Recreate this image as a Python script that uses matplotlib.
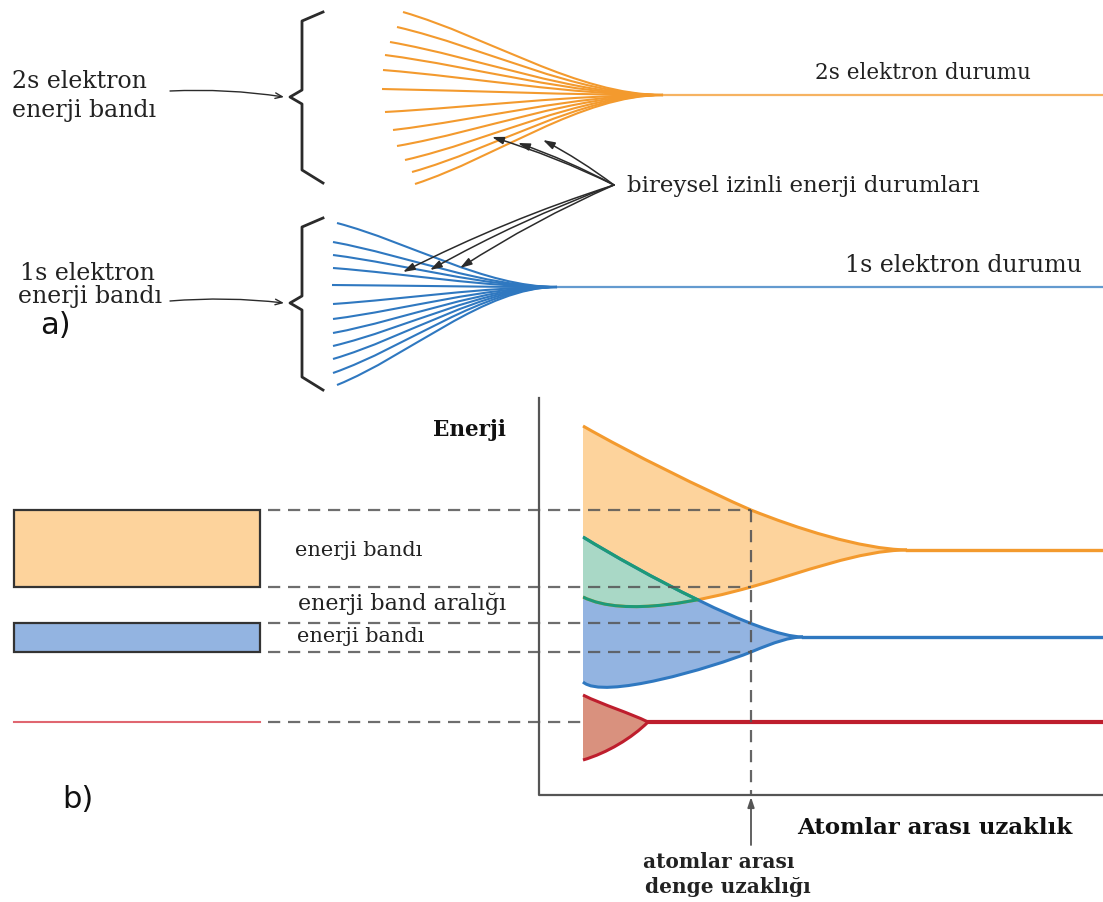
import numpy as np
import matplotlib
matplotlib.use("Agg")
import matplotlib.pyplot as plt
from matplotlib.path import Path
from matplotlib.patches import PathPatch, Rectangle
from matplotlib.bezier import BezierSegment

## Colours
c_orange = "#F39A2E"
c_orange_fill = "#FDD39C"
c_blue = "#2F78C0"
c_blue_fill = "#93B4E1"
c_green = "#1D9A78"
c_green_fill = "#A9D8C6"
c_red = "#BE1E2D"
c_red_fill = "#D9917E"
c_ink = "#2B2B2B"
c_dash = "#555555"

## a) individual levels fanning out from the atomic states
fan_2s_x0 = [403, 397, 390, 385, 383, 382, 385, 393, 397, 405, 412, 415]
fan_2s_y0 = [12, 27, 42, 55, 70, 89, 112, 130, 146, 160, 172, 184]
fan_2s_end = (663, 95)

fan_1s_x0 = [337, 333, 333, 333, 332, 333, 333, 333, 333, 333, 333, 337]
fan_1s_y0 = [223, 242, 255, 268, 285, 304, 319, 333, 346, 359, 373, 385]
fan_1s_end = (557, 287)

# curly brackets: (x of spine, x of tip, x of arms, top, middle, bottom)
brackets = [(302, 290, 323, 12, 97, 183),
            (302, 290, 323, 218, 303, 390)]

# arrows from "bireysel izinli enerji durumlari"
level_arrow_src = (614, 185)
level_arrow_tgt = [(492, 137), (518, 143), (543, 140),
                   (403, 272), (430, 270), (460, 268)]

## b) band edges vs. interatomic spacing (cubic segments)
r_eq = 751
band2_upper = [[(583, 426), (630, 453), (705, 490), (751, 510)],
               [(751, 510), (796, 528), (860, 549), (907, 550)]]
band2_lower = [[(583, 597), (625, 618), (705, 600), (751, 587)],
               [(751, 587), (801, 573), (860, 550), (907, 550)]]
band1_upper = [[(583, 537), (640, 572), (760, 637), (803, 637)]]
band1_lower = [[(583, 682), (603, 700), (711, 668), (751, 652)],
               [(751, 652), (775, 642), (790, 637), (803, 637)]]
core_upper = [[(583, 695), (603, 705), (630, 713), (648, 722)]]
core_lower = [[(583, 760), (607, 753), (632, 738), (648, 722)]]

x_right = 1103
axis_origin = (539, 795)
axis_top = 398


def edge_path(segs):
    verts = [segs[0][0]]
    codes = [Path.MOVETO]
    for s in segs:
        verts += list(s[1:])
        codes += [Path.CURVE4] * 3
    return Path(verts, codes)


def region_path(upper, lower):
    verts = [upper[0][0]]
    codes = [Path.MOVETO]
    for s in upper:
        verts += list(s[1:])
        codes += [Path.CURVE4] * 3
    for s in reversed(lower):
        r = list(reversed(s))
        verts.append(r[0])
        codes.append(Path.LINETO)
        verts += r[1:]
        codes += [Path.CURVE4] * 3
    verts.append(verts[0])
    codes.append(Path.CLOSEPOLY)
    return Path(verts, codes)


def edge_at(segs, x):
    pts = np.vstack([BezierSegment(np.array(s, float))(np.linspace(0, 1, 200))
                     for s in segs])
    order = np.argsort(pts[:, 0])
    return np.interp(x, pts[order, 0], pts[order, 1])


fig = plt.figure(figsize=(11.03, 9.02), dpi=100)
ax = fig.add_axes([0, 0, 1, 1])
ax.set_xlim(0, 1103)
ax.set_ylim(902, 0)
ax.axis("off")

serif = "DejaVu Serif"

# ---- part a ----
for xs, ys, end, col in [(fan_2s_x0, fan_2s_y0, fan_2s_end, c_orange),
                         (fan_1s_x0, fan_1s_y0, fan_1s_end, c_blue)]:
    xe, ye = end
    for x0, y0 in zip(xs, ys):
        dx = xe - x0
        seg = [(x0, y0), (x0 + 0.33 * dx, y0 + 0.3 * (ye - y0)),
               (x0 + 0.67 * dx, ye), (xe, ye)]
        ax.add_patch(PathPatch(edge_path([seg]), fill=False, ec=col, lw=1.5))
    ax.plot([xe, x_right], [ye, ye], color=col, lw=1.6, alpha=0.75)

for xs, xt, xa, top, mid, bot in brackets:
    bx = [xa, xs, xs, xt, xs, xs, xa]
    by = [top, top + 9, mid - 7, mid, mid + 7, bot - 13, bot]
    ax.plot(bx, by, color=c_ink, lw=2, solid_joinstyle="round")

for tgt in level_arrow_tgt:
    ax.annotate("", xy=tgt, xytext=level_arrow_src,
                arrowprops=dict(arrowstyle="-|>,head_length=0.7,head_width=0.22",
                                color=c_ink, lw=1.1, shrinkA=0, shrinkB=0,
                                connectionstyle="arc3,rad=0.04"))

for y0, y1 in [(91, 97), (301, 303)]:
    ax.annotate("", xy=(284, y1), xytext=(170, y0),
                arrowprops=dict(arrowstyle="->,head_length=0.5,head_width=0.2",
                                color=c_ink, lw=1, shrinkA=0, shrinkB=0,
                                connectionstyle="arc3,rad=-0.05"))

ax.text(12, 82, "2s elektron", family=serif, fontsize=17, va="center", color="#222")
ax.text(12, 110, "enerji bandı", family=serif, fontsize=17, va="center", color="#222")
ax.text(20, 273, "1s elektron", family=serif, fontsize=17, va="center", color="#222")
ax.text(18, 297, "enerji bandı", family=serif, fontsize=17, va="center", color="#222")
ax.text(815, 73, "2s elektron durumu", family=serif, fontsize=15.5, va="center", color="#222")
ax.text(845, 265, "1s elektron durumu", family=serif, fontsize=17, va="center", color="#222")
ax.text(627, 186, "bireysel izinli enerji durumları", family=serif, fontsize=16.5,
        va="center", color="#222")
ax.text(40, 325, "a)", family="DejaVu Sans", fontsize=22, va="center", color="#111")

# ---- part b ----
p_orange = PathPatch(region_path(band2_upper, band2_lower), fc=c_orange_fill, ec="none")
p_blue = PathPatch(region_path(band1_upper, band1_lower), fc=c_blue_fill, ec="none")
ax.add_patch(p_orange)
ax.add_patch(p_blue)
p_overlap = PathPatch(region_path(band2_upper, band2_lower), fc=c_green_fill, ec="none")
ax.add_patch(p_overlap)
p_overlap.set_clip_path(p_blue)
ax.add_patch(PathPatch(region_path(core_upper, core_lower), fc=c_red_fill, ec="none"))

for segs, col in [(band2_upper, c_orange), (band2_lower, c_orange),
                  (band1_upper, c_blue), (band1_lower, c_blue),
                  (core_upper, c_red), (core_lower, c_red)]:
    ax.add_patch(PathPatch(edge_path(segs), fill=False, ec=col, lw=2.2))

g1 = PathPatch(edge_path(band2_lower), fill=False, ec=c_green, lw=2.2)
ax.add_patch(g1)
g1.set_clip_path(p_blue)
g2 = PathPatch(edge_path(band1_upper), fill=False, ec=c_green, lw=2.2)
ax.add_patch(g2)
g2.set_clip_path(p_orange)

# flat atomic levels at large spacing
for segs, col, lw in [(band2_upper, c_orange, 2.4), (band1_upper, c_blue, 2.4),
                      (core_upper, c_red, 3)]:
    xe, ye = segs[-1][-1]
    ax.plot([xe, x_right], [ye, ye], color=col, lw=lw)

# band edges at equilibrium spacing
e2_top = edge_at(band2_upper, r_eq)
e2_bot = edge_at(band2_lower, r_eq)
e1_top = edge_at(band1_upper, r_eq)
e1_bot = edge_at(band1_lower, r_eq)
e_core = core_upper[-1][-1][1]

box_x0, box_x1 = 14, 260
ax.add_patch(Rectangle((box_x0, e2_top), box_x1 - box_x0, e2_bot - e2_top,
                       fc=c_orange_fill, ec="#333333", lw=1.6))
ax.add_patch(Rectangle((box_x0, e1_top), box_x1 - box_x0, e1_bot - e1_top,
                       fc=c_blue_fill, ec="#333333", lw=1.6))
ax.plot([box_x0, box_x1], [e_core, e_core], color="#E06670", lw=1.5)

dash = (0, (5.5, 3.5))
for yl in [e2_top, e2_bot, e1_top, e1_bot]:
    ax.plot([box_x1 + 8, r_eq], [yl, yl], color=c_dash, lw=1.6, ls=dash, alpha=0.85)
ax.plot([box_x1 + 8, 583], [e_core, e_core], color=c_dash, lw=1.6, ls=dash, alpha=0.85)
ax.plot([r_eq, r_eq], [e2_top, axis_origin[1]], color=c_dash, lw=1.6, ls=dash, alpha=0.9)

# axes of the E(r) diagram
ax.plot([axis_origin[0], axis_origin[0], x_right],
        [axis_top, axis_origin[1], axis_origin[1]], color="#555555", lw=1.6)
ax.annotate("", xy=(r_eq, axis_origin[1] + 2), xytext=(r_eq, 845),
            arrowprops=dict(arrowstyle="-|>,head_length=0.6,head_width=0.2",
                            color="#555555", lw=1.3, shrinkA=0, shrinkB=0))

ax.text(433, 430, "Enerji", family=serif, fontsize=15.5, fontweight="bold",
        va="center", color="#111")
ax.text(295, 550, "enerji bandı", family=serif, fontsize=15, va="center", color="#222")
ax.text(298, 604, "enerji band aralığı", family=serif, fontsize=16, va="center", color="#222")
ax.text(297, 637, "enerji bandı", family=serif, fontsize=15, va="center", color="#222")
ax.text(62, 800, "b)", family="DejaVu Sans", fontsize=22, va="center", color="#111")
ax.text(797, 828, "Atomlar arası uzaklık", family=serif, fontsize=16.5,
        fontweight="bold", va="center", color="#111")
ax.text(643, 862, "atomlar arası", family=serif, fontsize=14.5, fontweight="bold",
        va="center", color="#222")
ax.text(645, 887, "denge uzaklığı", family=serif, fontsize=14.5, fontweight="bold",
        va="center", color="#222")

fig.savefig("out.png", dpi=100)
